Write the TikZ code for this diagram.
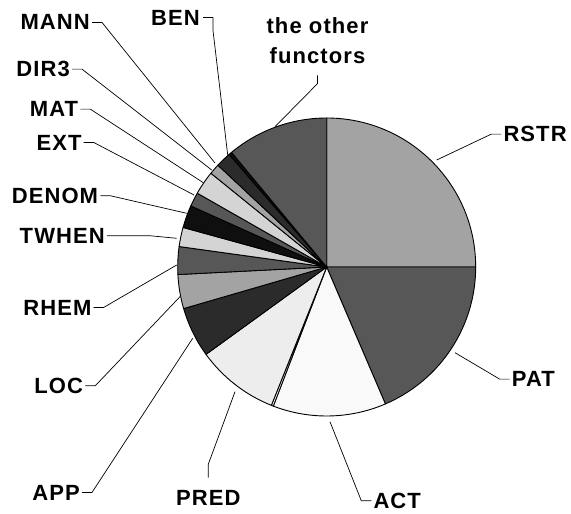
\documentclass[tikz,border=0pt]{standalone}
\usepackage{fontspec}
\setmainfont{Liberation Sans}[LetterSpace=5]
\definecolor{gA}{gray}{0.64}
\definecolor{gB}{gray}{0.34}
\definecolor{gC}{gray}{0.975}
\definecolor{gD}{gray}{0.93}
\definecolor{gE}{gray}{0.17}
\definecolor{gF}{gray}{0.83}
\definecolor{gK}{gray}{0.06}
\begin{document}
\begin{tikzpicture}[x=1pt,y=-1pt,
  wedge/.style={draw=black,line width=0.9pt,line join=round},
  lbl/.style={font=\fontsize{22}{30}\selectfont\bfseries,inner sep=0pt},
  leader/.style={draw=black,line width=0.7pt,line join=round}]
\useasboundingbox[fill=white] (0,0) rectangle (571,514);

% pie: centre and radius
\coordinate (c) at (326.7,267);
\def\R{149}
% slices, clockwise from the top (angles in the flipped frame)
\foreach \a/\b/\col in {-90/0/gA, 0/66.8/gB, 66.8/111/gC, 111/111.8/white,
  111.8/144.1/gD, 144.1/163.8/gE, 163.8/177.1/gA, 177.1/187.9/gB,
  187.9/195.4/gF, 195.4/204.2/gK, 204.2/209.7/gB, 209.7/219/gF,
  219/223.1/gA, 223.1/229.1/gE, 229.1/230.3/gK, 230.3/270/gB}{
  \filldraw[wedge,fill=\col] (c) -- ++(\a:\R) arc[start angle=\a,end angle=\b,radius=\R] -- cycle;
}

% leader end points just outside the rim
\coordinate (pMANN) at (215,163);
\coordinate (pBEN) at (227.7,155);
\coordinate (pDIR) at (211.7,170);
\coordinate (pMAT) at (203.3,182.7);
\coordinate (pEXT) at (194,195);
\coordinate (pDEN) at (186.7,213.3);
\coordinate (pTWH) at (176.7,238.3);
\coordinate (pRHE) at (176.7,265);
\coordinate (pLOC) at (180,296.7);
\coordinate (pAPP) at (192.7,338.3);
\coordinate (pPRE) at (235,391.7);
\coordinate (pACT) at (330,421.7);
\coordinate (pPAT) at (455,352.7);
\coordinate (pRST) at (436.7,160);
\coordinate (pOTH) at (275,126.7);

% labels
\node[lbl,anchor=base east] (MANN) at (90,30) {MANN};
\node[lbl,anchor=base east] (BEN) at (200,25) {BEN};
\node[lbl,anchor=base east] (DIR) at (70,76.7) {DIR3};
\node[lbl,anchor=base east] (MAT) at (78.3,116.7) {MAT};
\node[lbl,anchor=base east] (EXT) at (81.7,150) {EXT};
\node[lbl,anchor=base east] (DEN) at (98.3,203.3) {DENOM};
\node[lbl,anchor=base east] (TWH) at (105,243.3) {TWHEN};
\node[lbl,anchor=base east] (RHE) at (91.7,315) {RHEM};
\node[lbl,anchor=base east] (LOC) at (83.3,393.3) {LOC};
\node[lbl,anchor=base east] (APP) at (80,500) {APP};
\node[lbl,anchor=base] (PRE) at (208.3,505) {PRED};
\node[lbl,anchor=base west] (ACT) at (373.3,508.3) {ACT};
\node[lbl,anchor=base west] (PAT) at (511.7,386.7) {PAT};
\node[lbl,anchor=base west] (RST) at (503.3,141.7) {RSTR};
\node[lbl,anchor=north,align=center] (OTH) at (317.5,17.3) {the other\\functors};

% leader lines
\draw[leader] ([xshift=2pt]MANN.east) -- ++(10,0) -- (pMANN);
\draw[leader] ([xshift=3pt]BEN.east) -- ++(10,0) -- ++(0,13) -- (pBEN);
\draw[leader] ([xshift=2pt]DIR.east) -- ++(10,0) -- (pDIR);
\draw[leader] ([xshift=2pt]MAT.east) -- ++(10,0) -- (pMAT);
\draw[leader] ([xshift=2pt]EXT.east) -- ++(10,0) -- (pEXT);
\draw[leader] ([xshift=2pt]DEN.east) -- ++(10,0) -- (pDEN);
\draw[leader] ([xshift=2pt]TWH.east) -- ++(43,0) -- (pTWH);
\draw[leader] ([xshift=2pt]RHE.east) -- ++(10,0) -- (pRHE);
\draw[leader] ([xshift=2pt]LOC.east) -- ++(10,0) -- (pLOC);
\draw[leader] ([xshift=2pt]APP.east) -- ++(10,0) -- (pAPP);
\draw[leader] ([yshift=12pt]PRE.north) -- ++(0,-13.4) -- (pPRE);
\draw[leader] ([xshift=-2pt]ACT.west) -- ++(-10,0) -- (pACT);
\draw[leader] ([xshift=-2pt]PAT.west) -- ++(-10,0) -- (pPAT);
\draw[leader] ([xshift=-2pt]RST.west) -- ++(-10,0) -- (pRST);
\draw[leader] ([yshift=-11.5pt]OTH.south) -- ++(0,8.3) -- (pOTH);
\end{tikzpicture}
\end{document}
